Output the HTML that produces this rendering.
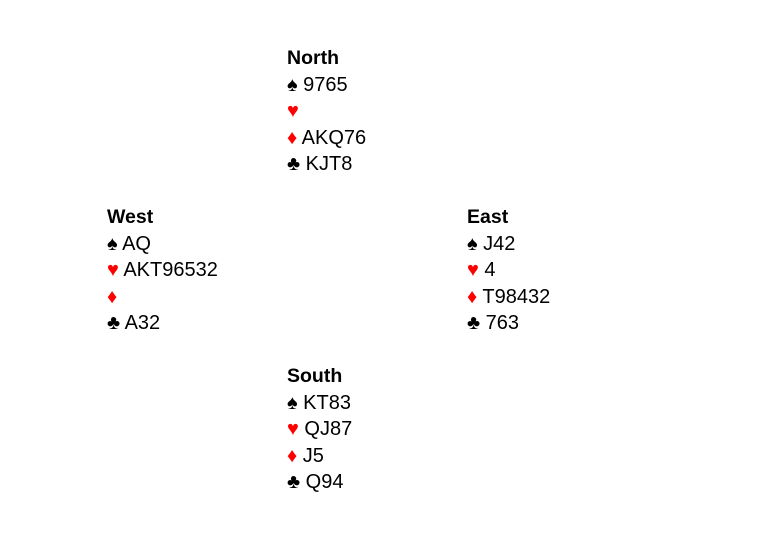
<!DOCTYPE html>
<html><head><style>
body{margin:0;width:776px;height:535px;background:#fff;font-family:"Liberation Sans",Arial,sans-serif;font-size:20px;color:#000;position:relative;overflow:hidden}
.h{position:absolute;line-height:26.5px;white-space:nowrap}
.h b{font-weight:bold;font-size:19.5px}
.r{color:#f00}
</style></head><body>
<div class="h" style="left:287px;top:45px"><b>North</b><br>♠ 9765<br><span class="r">♥</span><br><span class="r">♦</span> AKQ76<br>♣ KJT8</div>
<div class="h" style="left:107px;top:204px"><b>West</b><br>♠ AQ<br><span class="r">♥</span> AKT96532<br><span class="r">♦</span><br>♣ A32</div>
<div class="h" style="left:467px;top:204px"><b>East</b><br>♠ J42<br><span class="r">♥</span> 4<br><span class="r">♦</span> T98432<br>♣ 763</div>
<div class="h" style="left:287px;top:363px"><b>South</b><br>♠ KT83<br><span class="r">♥</span> QJ87<br><span class="r">♦</span> J5<br>♣ Q94</div>
</body></html>
